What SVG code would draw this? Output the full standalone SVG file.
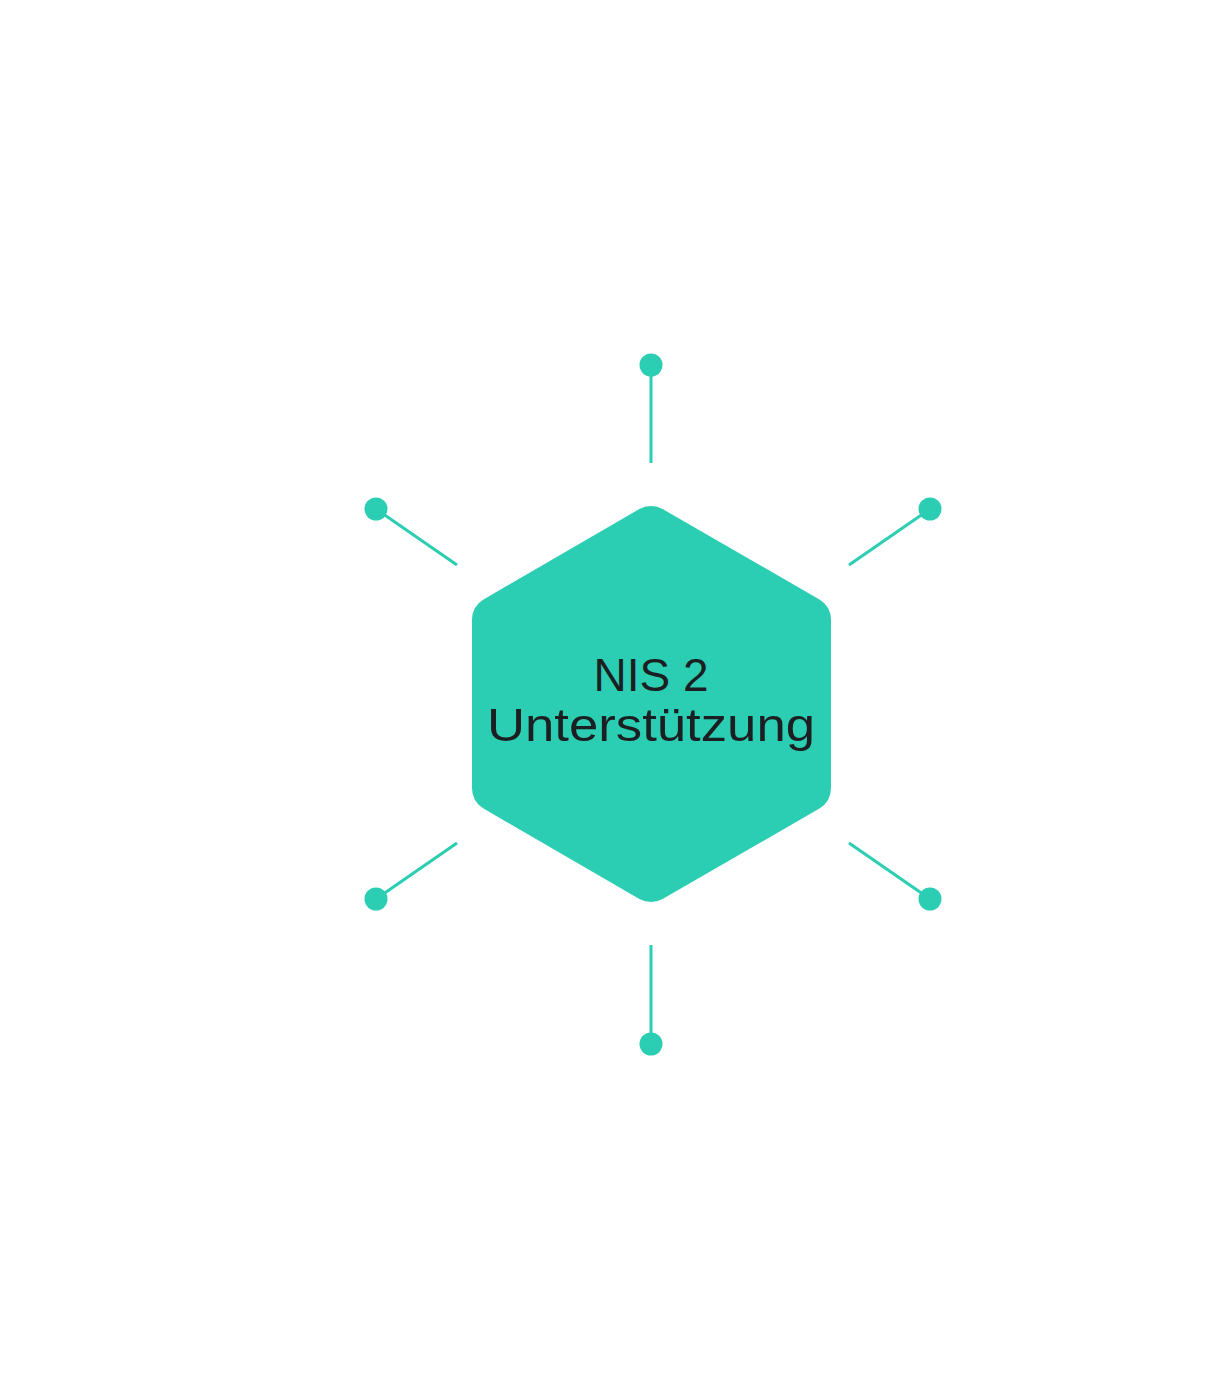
<svg xmlns="http://www.w3.org/2000/svg" width="1224" height="1399" viewBox="0 0 1224 1399">
<style>
.l{stroke:#2bceb2;stroke-width:3;fill:none}
.d{fill:#2bceb2}
.t{font-family:"Liberation Sans",Arial,sans-serif;font-size:46px;fill:#1b1f22;text-anchor:middle}
</style>
<rect width="1224" height="1399" fill="#fff"/>
<g id="connectors">
<line class="l" x1="651" y1="365" x2="651" y2="463"/>
<line class="l" x1="376" y1="509" x2="457" y2="565"/>
<line class="l" x1="930" y1="509" x2="849" y2="565"/>
<line class="l" x1="376" y1="899" x2="457" y2="843"/>
<line class="l" x1="930" y1="899" x2="849" y2="843"/>
<line class="l" x1="651" y1="945" x2="651" y2="1044"/>
<circle class="d" cx="651" cy="365" r="11.5"/>
<circle class="d" cx="376" cy="509" r="11.5"/>
<circle class="d" cx="930" cy="509" r="11.5"/>
<circle class="d" cx="376" cy="899" r="11.5"/>
<circle class="d" cx="930" cy="899" r="11.5"/>
<circle class="d" cx="651" cy="1044" r="11.5"/>
</g>
<g id="center">
<polygon points="651,530 807,620 807,788 651,878 496,788 496,620" fill="#2bceb2" stroke="#2bceb2" stroke-width="48" stroke-linejoin="round"/>
<text class="t" x="651" y="691">NIS 2</text>
<text class="t" x="651" y="741" textLength="328" lengthAdjust="spacingAndGlyphs">Unterstützung</text>
</g>
</svg>
